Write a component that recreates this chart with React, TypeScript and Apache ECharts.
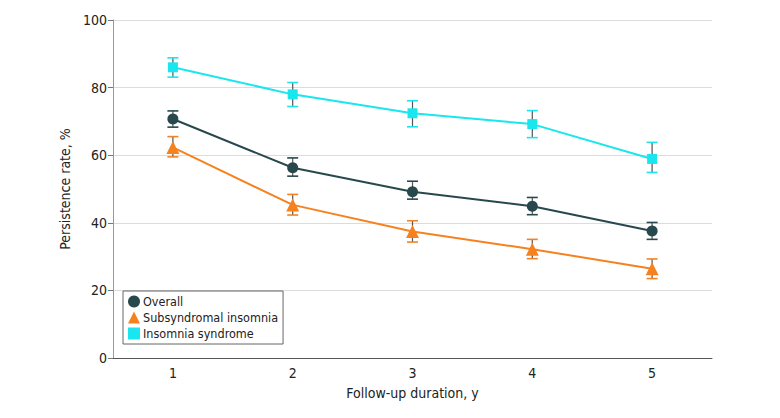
import React, { useEffect, useRef } from "react";
import * as echarts from "echarts";

const categories = ["1", "2", "3", "4", "5"];
const seriesNames = ["Overall", "Subsyndromal insomnia", "Insomnia syndrome"];
const overall = [70.7, 56.3, 49.2, 44.9, 37.6];
const overallLow = [68.3, 53.8, 47.0, 42.4, 35.1];
const overallHigh = [73.1, 59.2, 52.3, 47.5, 40.1];
const subsyndromal = [62.3, 45.3, 37.4, 32.2, 26.4];
const subsyndromalLow = [59.5, 42.3, 34.3, 29.4, 23.5];
const subsyndromalHigh = [65.5, 48.4, 40.6, 35.1, 29.3];
const syndrome = [86.0, 78.0, 72.4, 69.2, 58.9];
const syndromeLow = [83.1, 74.4, 68.4, 65.2, 54.9];
const syndromeHigh = [88.8, 81.5, 76.1, 73.2, 63.8];
const yTicks = [0, 20, 40, 60, 80, 100];

const colors = ["#27484c", "#f5821f", "#19e6ee"];
const symbols = ["circle", "triangle", "rect"];
const symbolSizes = [11, 13, 10];
const FONT = "'Liberation Sans Narrow', 'DejaVu Sans Condensed', 'Noto Sans', sans-serif";

function errorSeries(low: number[], high: number[], color: string) {
  return {
    type: "custom",
    silent: true,
    z: 1,
    data: low.map((l, i) => [i, l, high[i]]),
    renderItem: (params: any, api: any) => {
      const x = api.value(0);
      const lo = api.coord([x, api.value(1)]);
      const hi = api.coord([x, api.value(2)]);
      const half = 5.5;
      return {
        type: "group",
        children: [
          {
            type: "line",
            shape: { x1: lo[0], y1: lo[1], x2: hi[0], y2: hi[1] },
            style: { stroke: "#555555", lineWidth: 1.2 },
          },
          {
            type: "line",
            shape: { x1: lo[0] - half, y1: lo[1], x2: lo[0] + half, y2: lo[1] },
            style: { stroke: color, lineWidth: 1.6 },
          },
          {
            type: "line",
            shape: { x1: hi[0] - half, y1: hi[1], x2: hi[0] + half, y2: hi[1] },
            style: { stroke: color, lineWidth: 1.6 },
          },
        ],
      };
    },
  };
}

function lineSeries(name: string, data: number[], idx: number) {
  return {
    name,
    type: "line",
    z: 3,
    data,
    symbol: symbols[idx],
    symbolSize: symbolSizes[idx],
    lineStyle: { color: colors[idx], width: 2 },
    itemStyle: { color: colors[idx] },
  };
}

export default function App() {
  const ref = useRef<HTMLDivElement>(null);
  useEffect(() => {
    if (!ref.current) return;
    const chart = echarts.init(ref.current, undefined, { renderer: "svg" });
    chart.setOption({
      animation: false,
      backgroundColor: "#ffffff",
      textStyle: { fontFamily: FONT },
      grid: { left: 105, right: 60, top: 12, bottom: 52 },
      legend: {
        orient: "vertical",
        left: 115,
        top: 283,
        padding: [4, 5, 4, 5],
        itemGap: 3,
        itemWidth: 12,
        itemHeight: 12,
        borderColor: "#666666",
        borderWidth: 1,
        textStyle: { fontSize: 12.5, color: "#222", fontFamily: FONT, padding: [0, 0, 0, -2] },
        data: seriesNames.map((n, i) => ({
          name: n,
          icon: symbols[i],
          itemStyle: { color: colors[i] },
        })),
      },
      xAxis: {
        type: "category",
        data: categories,
        boundaryGap: true,
        name: "Follow-up duration, y",
        nameLocation: "middle",
        nameGap: 28,
        nameTextStyle: { fontSize: 14, color: "#222", fontFamily: FONT },
        axisLine: { lineStyle: { color: "#555555", width: 1 } },
        axisTick: { alignWithLabel: true, length: 5, lineStyle: { color: "#555555" } },
        axisLabel: { fontSize: 14, color: "#222", margin: 8, fontFamily: FONT },
        splitLine: { show: false },
      },
      yAxis: {
        type: "value",
        min: yTicks[0],
        max: yTicks[yTicks.length - 1],
        interval: 20,
        name: "Persistence rate, %",
        nameLocation: "middle",
        nameGap: 30,
        nameTextStyle: { fontSize: 14, color: "#222", fontFamily: FONT },
        axisLine: { show: true, lineStyle: { color: "#999999", width: 1 } },
        axisTick: { show: true, length: 5, lineStyle: { color: "#777777" } },
        axisLabel: { fontSize: 14, color: "#222", margin: 6, fontFamily: FONT },
        splitLine: { lineStyle: { color: "#dcdcdc", width: 1 } },
      },
      series: [
        errorSeries(overallLow, overallHigh, colors[0]),
        errorSeries(subsyndromalLow, subsyndromalHigh, colors[1]),
        errorSeries(syndromeLow, syndromeHigh, colors[2]),
        lineSeries(seriesNames[0], overall, 0),
        lineSeries(seriesNames[1], subsyndromal, 1),
        lineSeries(seriesNames[2], syndrome, 2),
      ],
    });
    return () => chart.dispose();
  }, []);
  return <div ref={ref} style={{ width: 764, height: 402 }} />;
}
